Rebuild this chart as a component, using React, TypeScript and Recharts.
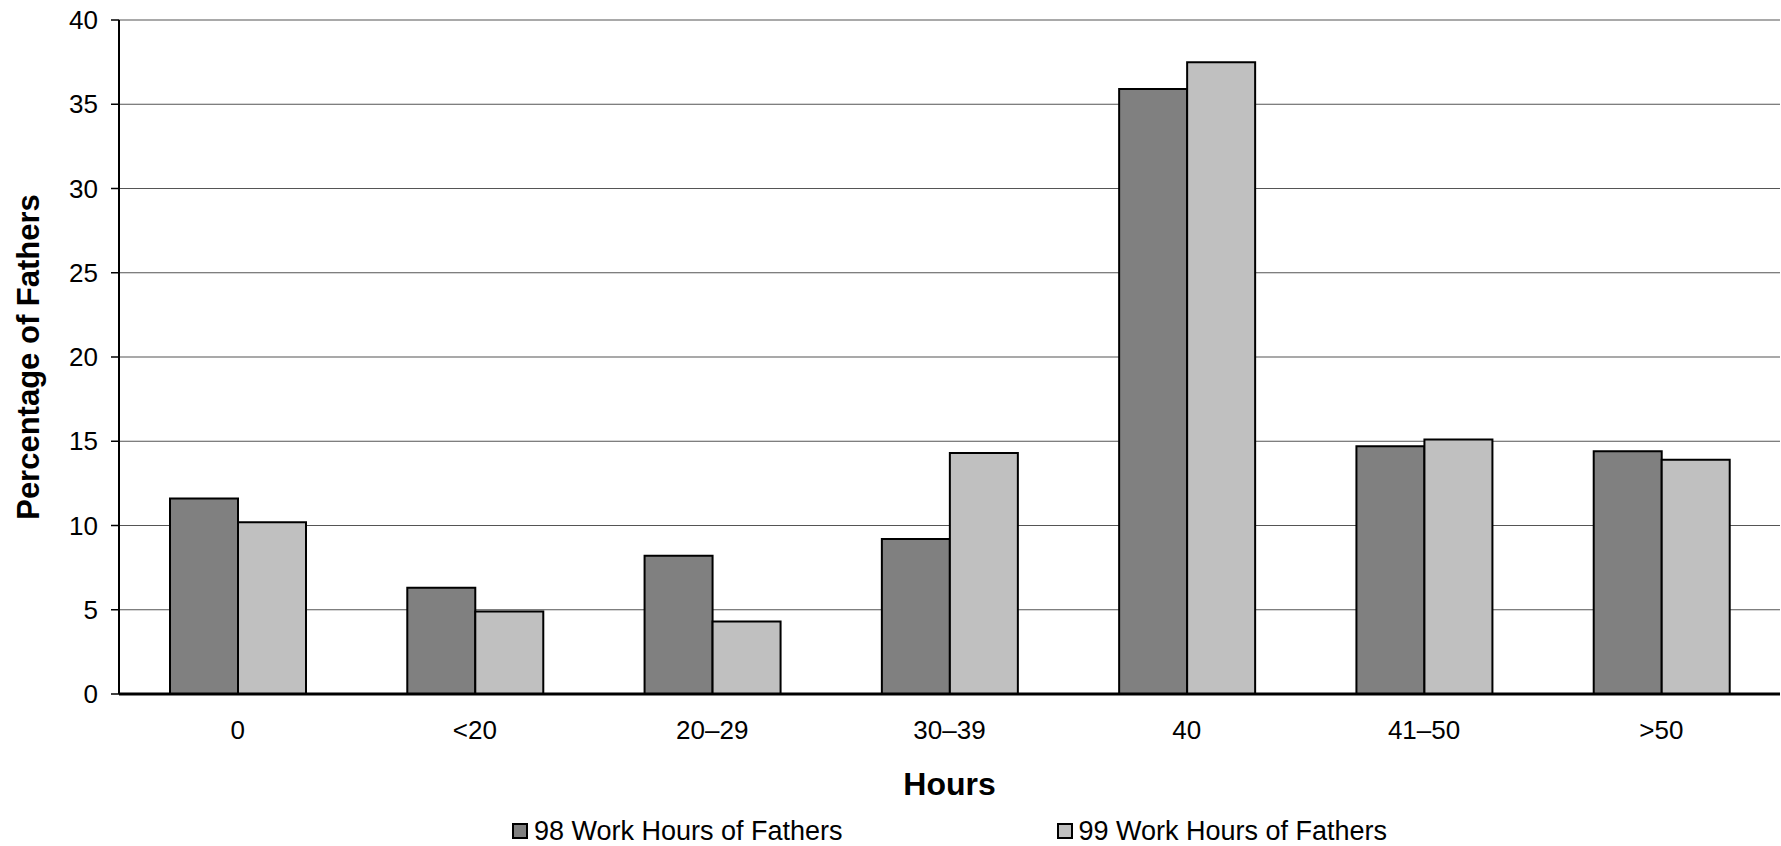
import { BarChart, Bar, XAxis, YAxis, CartesianGrid, Legend } from 'recharts';

const categories = ['0', '<20', '20–29', '30–39', '40', '41–50', '>50'];
const fathers98 = [11.6, 6.3, 8.2, 9.2, 35.9, 14.7, 14.4];
const fathers99 = [10.2, 4.9, 4.3, 14.3, 37.5, 15.1, 13.9];
const yTicks = [0, 5, 10, 15, 20, 25, 30, 35, 40];

const series = [
  { key: 'y98', name: '98 Work Hours of Fathers', color: '#808080' },
  { key: 'y99', name: '99 Work Hours of Fathers', color: '#c0c0c0' },
];

const data = categories.map((c, i) => ({ hours: c, y98: fathers98[i], y99: fathers99[i] }));

const FONT = '"Liberation Sans", Arial, Helvetica, sans-serif';

function LegendBox() {
  return (
    <div
      style={{
        display: 'flex',
        justifyContent: 'center',
        gap: 214,
        paddingLeft: 119,
        fontFamily: FONT,
        fontSize: 27,
        color: '#000',
        lineHeight: '30px',
      }}
    >
      {series.map(s => (
        <div key={s.key} style={{ display: 'flex', alignItems: 'center' }}>
          <span
            style={{
              width: 12,
              height: 12,
              background: s.color,
              border: '2px solid #000',
              marginRight: 6,
              display: 'inline-block',
            }}
          />
          <span>{s.name}</span>
        </div>
      ))}
    </div>
  );
}

function YLabel(props: any) {
  const vb = props.viewBox;
  const cx = vb.x + 28;
  const cy = vb.y + vb.height / 2;
  return (
    <text
      x={cx}
      y={cy}
      transform={`rotate(-90, ${cx}, ${cy})`}
      textAnchor="middle"
      dominantBaseline="central"
      fontFamily={FONT}
      fontSize={31}
      fontWeight="bold"
      fill="#000"
    >
      Percentage of Fathers
    </text>
  );
}

function XLabel(props: any) {
  const vb = props.viewBox;
  return (
    <text
      x={vb.x + vb.width / 2}
      y={784}
      textAnchor="middle"
      dominantBaseline="central"
      fontFamily={FONT}
      fontSize={32}
      fontWeight="bold"
      fill="#000"
    >
      Hours
    </text>
  );
}

export default function App() {
  return (
    <div style={{ position: 'absolute', left: 0, top: 0, width: 1781, height: 846, background: '#fff' }}>
      <BarChart
        width={1781}
        height={846}
        data={data}
        margin={{ top: 20, right: 1, left: 0, bottom: 0 }}
        barGap={0}
      >
        <CartesianGrid vertical={false} stroke="#555" strokeWidth={1.2} />
        <XAxis
          dataKey="hours"
          height={122}
          tickSize={0}
          tickMargin={27}
          axisLine={{ stroke: '#000', strokeWidth: 3 }}
          tick={{ fill: '#000', fontSize: 26, fontFamily: FONT }}
          label={<XLabel />}
        />
        <XAxis
          xAxisId="top"
          orientation="top"
          dataKey="hours"
          height={0}
          tick={false}
          tickLine={false}
          axisLine={{ stroke: '#000', strokeWidth: 2 }}
        />
        <YAxis
          domain={[0, 40]}
          ticks={yTicks}
          width={119}
          tickSize={8}
          tickMargin={13}
          interval={0}
          axisLine={{ stroke: '#000', strokeWidth: 2 }}
          tickLine={{ stroke: '#000', strokeWidth: 1.5 }}
          tick={{ fill: '#000', fontSize: 26, fontFamily: FONT }}
          label={<YLabel />}
        />
        <YAxis
          yAxisId="right"
          orientation="right"
          domain={[0, 40]}
          width={0}
          tick={false}
          tickLine={false}
          axisLine={{ stroke: '#000', strokeWidth: 1.5 }}
        />
        <Legend verticalAlign="bottom" height={30} content={() => <LegendBox />} />
        {series.map(s => (
          <Bar
            key={s.key}
            dataKey={s.key}
            name={s.name}
            fill={s.color}
            stroke="#000"
            strokeWidth={2}
            barSize={68}
            isAnimationActive={false}
          />
        ))}
      </BarChart>
    </div>
  );
}
